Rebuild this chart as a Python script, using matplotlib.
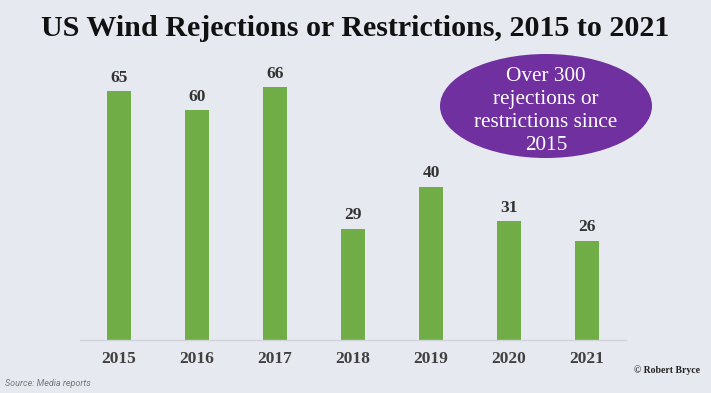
import matplotlib.pyplot as plt
from matplotlib.patches import Ellipse

years = ['2015', '2016', '2017', '2018', '2019', '2020', '2021']
counts = [65, 60, 66, 29, 40, 31, 26]

title = 'US Wind Rejections or Restrictions, 2015 to 2021'
bubble_text = 'Over 300\nrejections or\nrestrictions since\n2015'

bg = '#e6e9ef'
green = '#70ad47'
purple = '#7030a0'

fig = plt.figure(figsize=(7.11, 3.93), dpi=100, facecolor=bg)
# axes placed so bars sit between x=80..626 px and baseline at y=340 px
ax = fig.add_axes([80 / 711, (393 - 340) / 393, 546 / 711, 287 / 393])
ax.set_facecolor(bg)

x = range(len(years))
ax.bar(x, counts, width=0.31, color=green, zorder=2)

for i, v in zip(x, counts):
    ax.text(i, v + 1.5, str(v), ha='center', va='bottom', fontsize=12.5,
            fontweight='bold', family='Liberation Serif', color='#333333')

ax.set_xlim(-0.5, 6.5)
ax.set_ylim(0, 75)
ax.set_xticks(list(x))
ax.set_xticklabels(years, fontsize=12.5, fontweight='bold',
                   family='Liberation Serif', color='#404040')
ax.tick_params(axis='x', length=0, pad=8)
ax.set_yticks([])
for s in ['top', 'right', 'left']:
    ax.spines[s].set_visible(False)
ax.spines['bottom'].set_color('#d0d3d9')
ax.spines['bottom'].set_linewidth(1)

# purple callout
ell = Ellipse((546 / 711, (393 - 106) / 393), 212 / 711, 104 / 393,
              transform=fig.transFigure, facecolor=purple, edgecolor='none')
fig.patches.append(ell)
fig.text(546 / 711, (393 - 111) / 393, bubble_text, ha='center', va='center',
         fontsize=15.3, family='Liberation Serif', color='white', linespacing=1.28)

fig.text(0.5, (393 - 28) / 393, title, ha='center', va='center', fontsize=21.6,
         fontweight='bold', family='Liberation Serif', color='#111111')

fig.text(5 / 711, (393 - 383) / 393, 'Source: Media reports', ha='left', va='center',
         fontsize=6.5, style='italic', family='Roboto', color='#777777')
fig.text(700 / 711, (393 - 370) / 393, '\u00a9 Robert Bryce', ha='right', va='center',
         fontsize=7, fontweight='bold', family='Liberation Serif', color='#222222')

fig.savefig('out.png', dpi=100, facecolor=bg)
